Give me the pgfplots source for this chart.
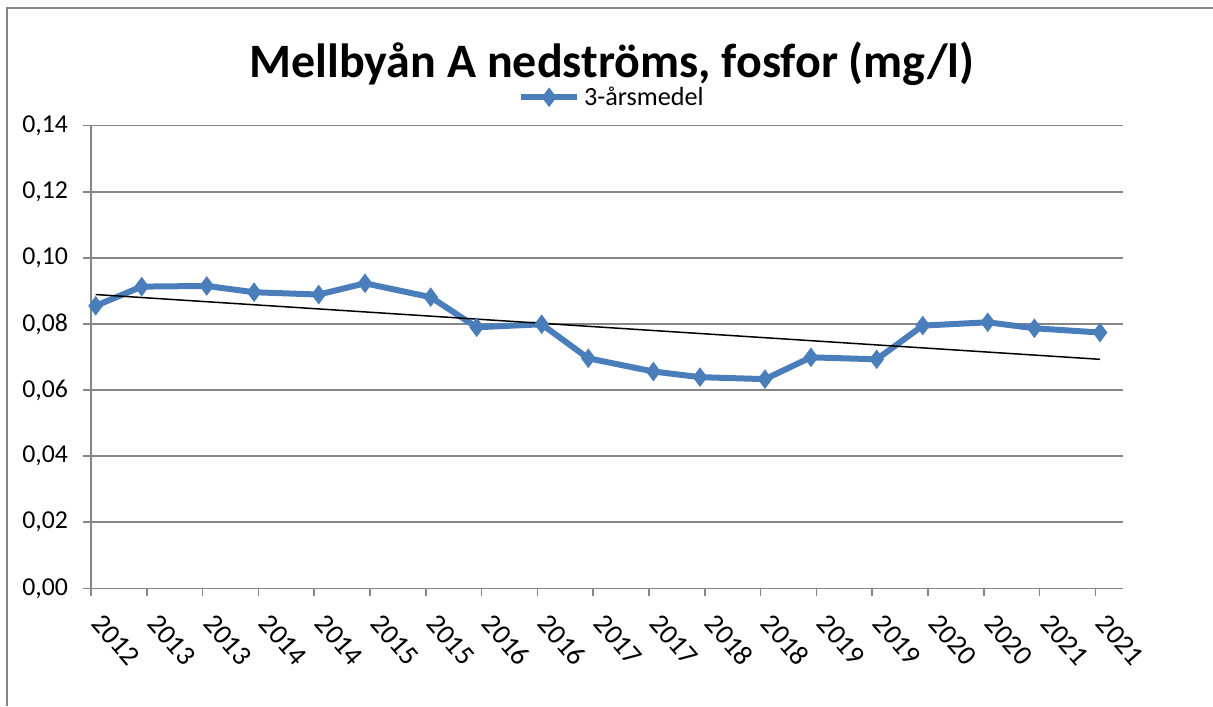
\documentclass[border=0pt]{standalone}
\usepackage{fontspec}
\setmainfont{Carlito}
\usepackage{pgfplots}
\pgfplotsset{compat=1.18}
\definecolor{ser}{HTML}{4A7EBB}
\definecolor{gridc}{HTML}{868686}
\newcommand\lbl{\fontsize{12.9}{15}\selectfont}
\newcommand\xlbl{\fontsize{14}{16}\selectfont}
\newcommand\leg{\fontsize{13.1}{16}\selectfont}
\begin{document}
\begin{tikzpicture}[x=1pt,y=1pt]
\path[use as bounding box] (0,0) rectangle (606.5,353);
\draw[gridc, line width=1.1pt] (3.5,0) -- (3.5,349) -- (606.5,349);
\node[anchor=base, font=\fontsize{24}{28}\selectfont\bfseries] at (306,314) {Mellbyån A nedströms, fosfor (mg/l)};
\begin{axis}[
  at={(45.5pt,58.85pt)}, anchor=south west,
  scale only axis, width=516pt, height=231.3pt,
  xmin=2012.5, xmax=2021.747, ymin=0, ymax=0.14,
  xtick={2012.5,2013,2013.5,2014,2014.5,2015,2015.5,2016,2016.5,2017,2017.5,2018,2018.5,2019,2019.5,2020,2020.5,2021,2021.5},
  xticklabels={2012,2013,2013,2014,2014,2015,2015,2016,2016,2017,2017,2018,2018,2019,2019,2020,2020,2021,2021},
  ytick={0,0.02,0.04,0.06,0.08,0.1,0.12,0.14},
  yticklabels={{0,00},{0,02},{0,04},{0,06},{0,08},{0,10},{0,12},{0,14}},
  axis x line=bottom, axis y line=left,
  axis line style={-, gridc, line width=0.8pt},
  ymajorgrids, major grid style={gridc, line width=0.8pt},
  tick align=outside, major tick length=4pt,
  tick style={gridc, line width=0.8pt},
  tick label style={black},
  yticklabel style={font=\lbl, xshift=-4pt},
  xticklabel style={font=\xlbl, inner sep=0pt, anchor=west, xshift=3pt, yshift=-11pt, rotate=-49},
  legend style={at={(0.4135,1.0614)}, anchor=west, inner sep=0pt, draw=none, fill=none, font=\leg},
  legend image code/.code={\draw[mark repeat=2,mark phase=2,#1] plot coordinates {(0pt,0pt) (14pt,0pt) (28pt,0pt)};},
]
\addplot[ser, line width=3pt, mark=diamond*, mark size=4.5pt, mark options={solid, fill=ser, draw=ser, line width=0.5pt}] coordinates {
(2012.542,0.0855)
(2012.954,0.0913)
(2013.537,0.0915)
(2013.961,0.0896)
(2014.540,0.0889)
(2014.955,0.0923)
(2015.544,0.0881)
(2015.956,0.0790)
(2016.538,0.0799)
(2016.956,0.0696)
(2017.539,0.0656)
(2017.957,0.0639)
(2018.539,0.0633)
(2018.951,0.0699)
(2019.540,0.0693)
(2019.953,0.0795)
(2020.535,0.0805)
(2020.953,0.0787)
(2021.541,0.0774)
};
\addlegendentry{3-årsmedel}
\addplot[black, line width=0.75pt, forget plot] coordinates {(2012.542,0.0889) (2021.541,0.0693)};
\end{axis}
\end{tikzpicture}
\end{document}
